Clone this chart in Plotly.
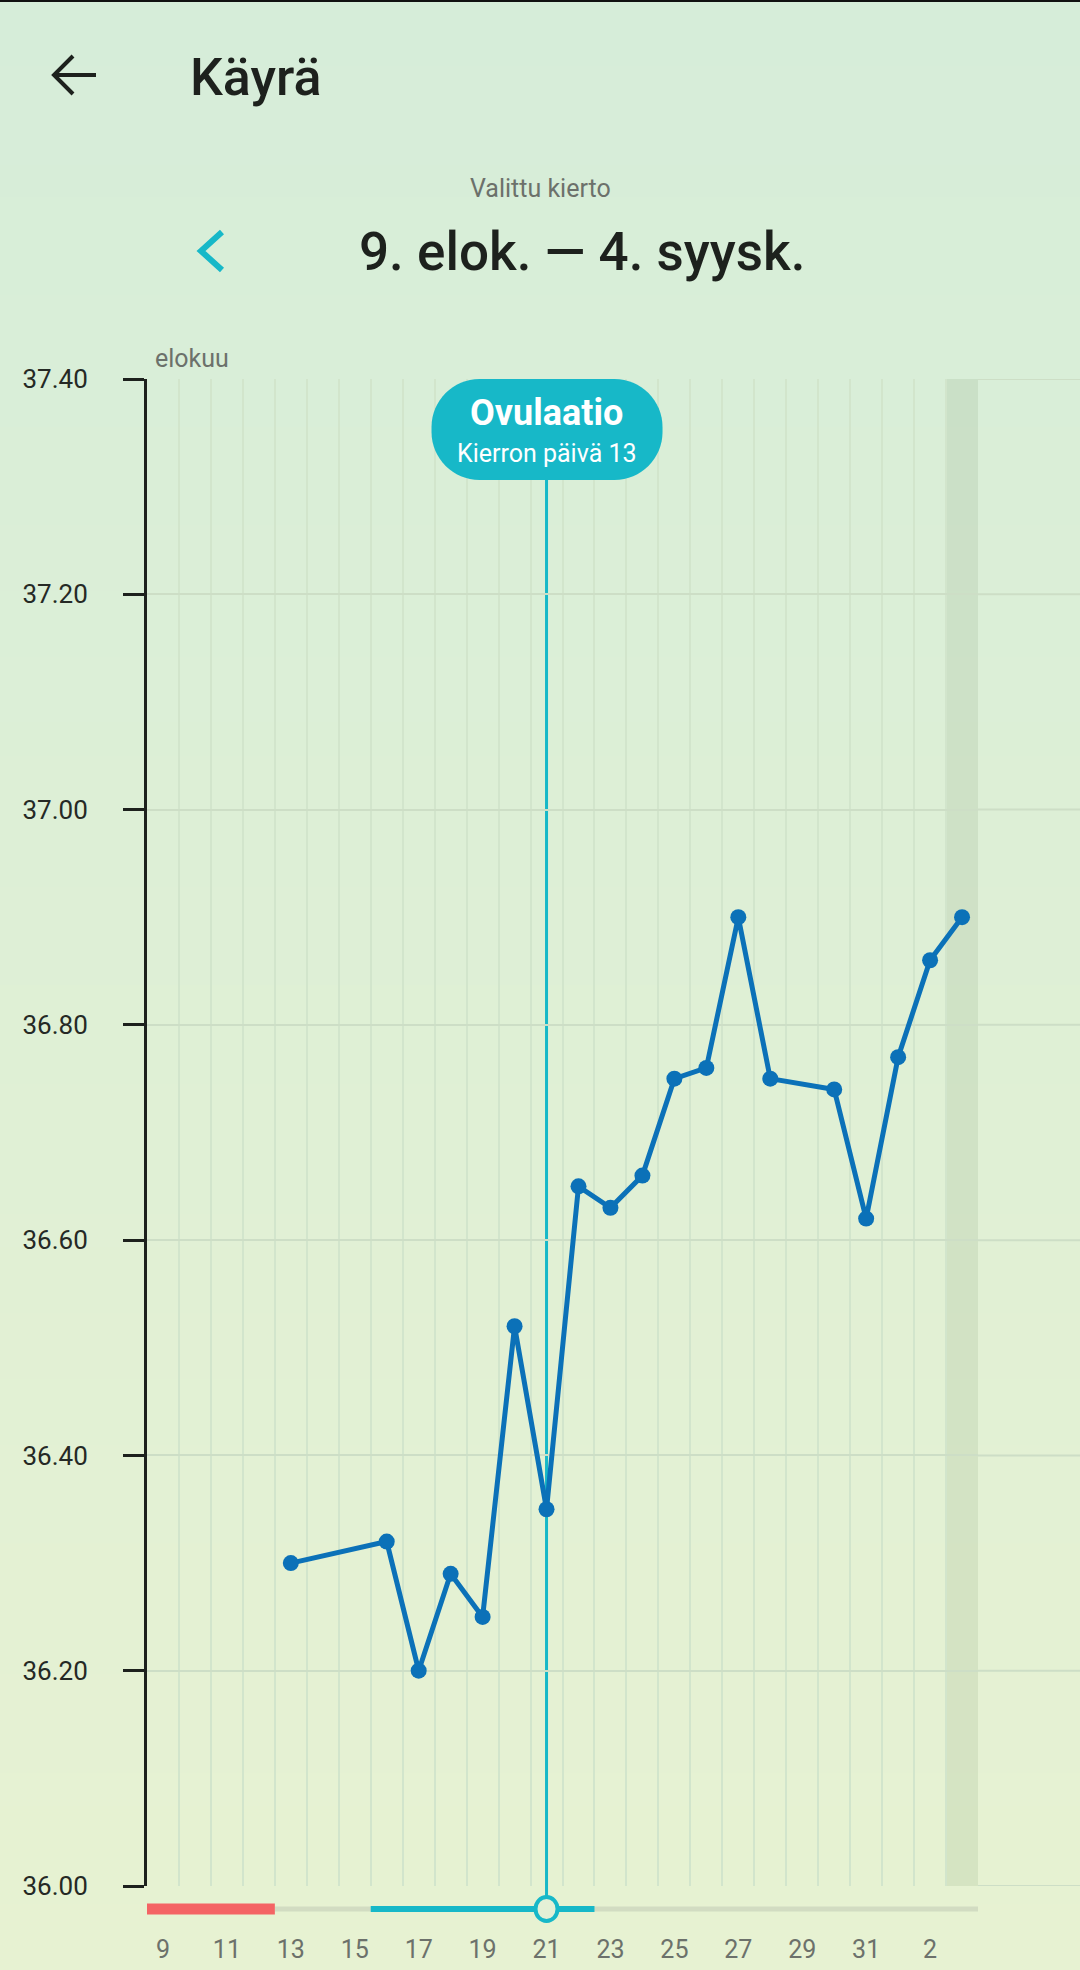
import plotly.graph_objects as go

W, H = 1080, 1970
M_L, M_R, M_T, M_B = 147, 102, 379, 84
PLOT_W = W - M_L - M_R
PLOT_H = H - M_T - M_B

# kierron päivä 1 = 9. elokuuta
DAY_TICKS = [1, 3, 5, 7, 9, 11, 13, 15, 17, 19, 21, 23, 25]
DAY_LABELS = ['9', '11', '13', '15', '17', '19', '21', '23', '25', '27', '29', '31', '2']
TEMP_DAYS = [5, 8, 9, 10, 11, 12, 13, 14, 15, 16, 17, 18, 19, 20, 22, 23, 24, 25, 26]
TEMPS = [36.30, 36.32, 36.20, 36.29, 36.25, 36.52, 36.35, 36.65, 36.63, 36.66,
         36.75, 36.76, 36.90, 36.75, 36.74, 36.62, 36.77, 36.86, 36.90]
TEMP_TICKS = [36.0, 36.2, 36.4, 36.6, 36.8, 37.0, 37.2, 37.4]
PERIOD_DAYS = [1, 2, 3, 4]
FERTILE_DAYS = [8, 9, 10, 11, 12, 13, 14]
OVULATION_DAY = 13
TODAY = 26
SHOWN_DAYS = 26

FONT = 'Roboto'
TEAL = '#17b8c8'
BLUE = '#0b71b8'
DARK = '#1d211d'
GREY_TXT = '#6c716b'


def ax_x(px):
    return (px - M_L) / PLOT_W


def ax_y(py):
    return 1 - (py - M_T) / PLOT_H


def mix(c1, c2, t):
    return 'rgb(%d,%d,%d)' % tuple(round(a + (b - a) * t) for a, b in zip(c1, c2))


shapes = []

# background gradient
top_c, bot_c = (214, 237, 217), (231, 242, 210)
n = 60
for i in range(n):
    shapes.append(dict(type='rect', xref='paper', yref='paper', layer='below',
                       x0=ax_x(0), x1=ax_x(W), y0=ax_y(H * i / n), y1=ax_y(H * (i + 1) / n + 1),
                       fillcolor=mix(top_c, bot_c, i / (n - 1)), line_width=0))
shapes.append(dict(type='rect', xref='paper', yref='paper', x0=ax_x(0), x1=ax_x(W),
                   y0=ax_y(0), y1=ax_y(2), fillcolor='#111', line_width=0))

# today column
shapes.append(dict(type='rect', xref='x', yref='paper', layer='below',
                   x0=TODAY - 0.5, x1=TODAY + 0.5, y0=0, y1=1,
                   fillcolor='rgba(120,150,110,0.15)', line_width=0))

# grid continues to the screen edge
for t in TEMP_TICKS:
    shapes.append(dict(type='line', xref='paper', yref='y', layer='below',
                       x0=1, x1=ax_x(W), y0=t, y1=t, line=dict(color='#cddec6', width=2)))

# cycle phase bar under the chart
bar_c = -23 / PLOT_H
shapes.append(dict(type='rect', xref='x', yref='paper', layer='below',
                   x0=max(PERIOD_DAYS) + 0.5, x1=SHOWN_DAYS + 0.5,
                   y0=bar_c - 2.5 / PLOT_H, y1=bar_c + 2.5 / PLOT_H,
                   fillcolor='#d2dcc2', line_width=0))
shapes.append(dict(type='rect', xref='x', yref='paper', layer='below',
                   x0=min(PERIOD_DAYS) - 0.5, x1=max(PERIOD_DAYS) + 0.5,
                   y0=bar_c - 5.5 / PLOT_H, y1=bar_c + 5.5 / PLOT_H,
                   fillcolor='#f46464', line_width=0))
shapes.append(dict(type='rect', xref='x', yref='paper', layer='below',
                   x0=min(FERTILE_DAYS) - 0.5, x1=max(FERTILE_DAYS) + 0.5,
                   y0=bar_c - 3 / PLOT_H, y1=bar_c + 3 / PLOT_H,
                   fillcolor=TEAL, line_width=0))

# ovulation marker line, label box and ring
shapes.append(dict(type='line', xref='x', yref='paper', layer='below',
                   x0=OVULATION_DAY, x1=OVULATION_DAY, y0=bar_c, y1=1 - 100 / PLOT_H,
                   line=dict(color=TEAL, width=3)))
r = 48
x_l, x_r, h = -115, 116, 101
box = (f'M {x_l + r} 0 L {x_r - r} 0 C {x_r - r * 0.45} 0 {x_r} {-r * 0.45} {x_r} {-r} '
       f'L {x_r} {-h + r} C {x_r} {-h + r * 0.45} {x_r - r * 0.45} {-h} {x_r - r} {-h} '
       f'L {x_l + r} {-h} C {x_l + r * 0.45} {-h} {x_l} {-h + r * 0.45} {x_l} {-h + r} '
       f'L {x_l} {-r} C {x_l} {-r * 0.45} {x_l + r * 0.45} 0 {x_l + r} 0 Z')
shapes.append(dict(type='path', xref='x', yref='paper', xsizemode='pixel', ysizemode='pixel',
                   xanchor=OVULATION_DAY, yanchor=1, path=box, fillcolor=TEAL, line_width=0))
shapes.append(dict(type='circle', xref='x', yref='paper', xsizemode='pixel', ysizemode='pixel',
                   xanchor=OVULATION_DAY, yanchor=bar_c, x0=-11, x1=11, y0=-12, y1=12,
                   fillcolor='#e4f0d6', line=dict(color=TEAL, width=4)))

# back arrow and chevron
shapes.append(dict(type='path', xref='paper', yref='paper', xsizemode='pixel', ysizemode='pixel',
                   xanchor=ax_x(0), yanchor=ax_y(0),
                   path='M 96 -75 L 54 -75 M 73 -56 L 54 -75 L 73 -94',
                   line=dict(color=DARK, width=4)))
shapes.append(dict(type='path', xref='paper', yref='paper', xsizemode='pixel', ysizemode='pixel',
                   xanchor=ax_x(0), yanchor=ax_y(0),
                   path='M 222 -232 L 201 -251 L 222 -270',
                   line=dict(color=TEAL, width=6)))

annotations = [
    dict(text='Käyrä', x=ax_x(188), y=ax_y(77), xanchor='left', yanchor='middle',
         font=dict(family=FONT, size=52, color=DARK, weight=500)),
    dict(text='Valittu kierto', x=ax_x(540), y=ax_y(188), xanchor='center', yanchor='middle',
         font=dict(family=FONT, size=25, color=GREY_TXT)),
    dict(text='9. elok. — 4. syysk.', x=ax_x(582), y=ax_y(252), xanchor='center', yanchor='middle',
         font=dict(family=FONT, size=53, color=DARK, weight=500)),
    dict(text='elokuu', x=ax_x(153), y=ax_y(359), xanchor='left', yanchor='middle',
         font=dict(family=FONT, size=25, color=GREY_TXT)),
]
for a in annotations:
    a.update(xref='paper', yref='paper', showarrow=False)
annotations += [
    dict(text='<b>Ovulaatio</b>', xref='x', yref='paper', x=OVULATION_DAY, y=1, yshift=-34,
         xanchor='center', yanchor='middle', showarrow=False,
         font=dict(family=FONT, size=36, color='white')),
    dict(text=f'Kierron päivä {OVULATION_DAY}', xref='x', yref='paper', x=OVULATION_DAY, y=1,
         yshift=-74, xanchor='center', yanchor='middle', showarrow=False,
         font=dict(family=FONT, size=25, color='white')),
]

fig = go.Figure()
fig.add_trace(go.Scatter(
    x=TEMP_DAYS, y=TEMPS, mode='lines+markers',
    line=dict(color=BLUE, width=5),
    marker=dict(color=BLUE, size=16),
    hoverinfo='x+y', showlegend=False,
))

fig.update_layout(
    width=W, height=H,
    margin=dict(l=M_L, r=M_R, t=M_T, b=M_B, autoexpand=False),
    paper_bgcolor='#e0efd6', plot_bgcolor='rgba(0,0,0,0)',
    font=dict(family=FONT),
    shapes=shapes, annotations=annotations,
    showlegend=False,
)
fig.update_xaxes(
    range=[0.5, SHOWN_DAYS + 0.499], tickmode='array', tickvals=DAY_TICKS, ticktext=DAY_LABELS,
    showgrid=False, zeroline=False, showline=False, ticks='', automargin=False,
    tickfont=dict(family=FONT, size=25, color=GREY_TXT), ticklabelstandoff=46,
    minor=dict(tick0=0.5, dtick=1, showgrid=True, gridcolor='#d2e5cc', gridwidth=2, ticks=''),
    fixedrange=True,
)
fig.update_yaxes(
    range=[36.0, 37.4], tickvals=TEMP_TICKS, tickformat='.2f', automargin=False,
    showgrid=True, gridcolor='#cddec6', gridwidth=2, zeroline=False,
    showline=True, linecolor=DARK, linewidth=3,
    ticks='outside', ticklen=21, tickwidth=3, tickcolor=DARK,
    tickfont=dict(family=FONT, size=26, color='#252925'), ticklabelstandoff=30,
    fixedrange=True,
)

# the page sits flush to the window like the app screen
fig.write_html('out.html', config={'displayModeBar': False},
               post_script="document.body.style.margin='0';"
                           "document.body.style.overflow='hidden';")
